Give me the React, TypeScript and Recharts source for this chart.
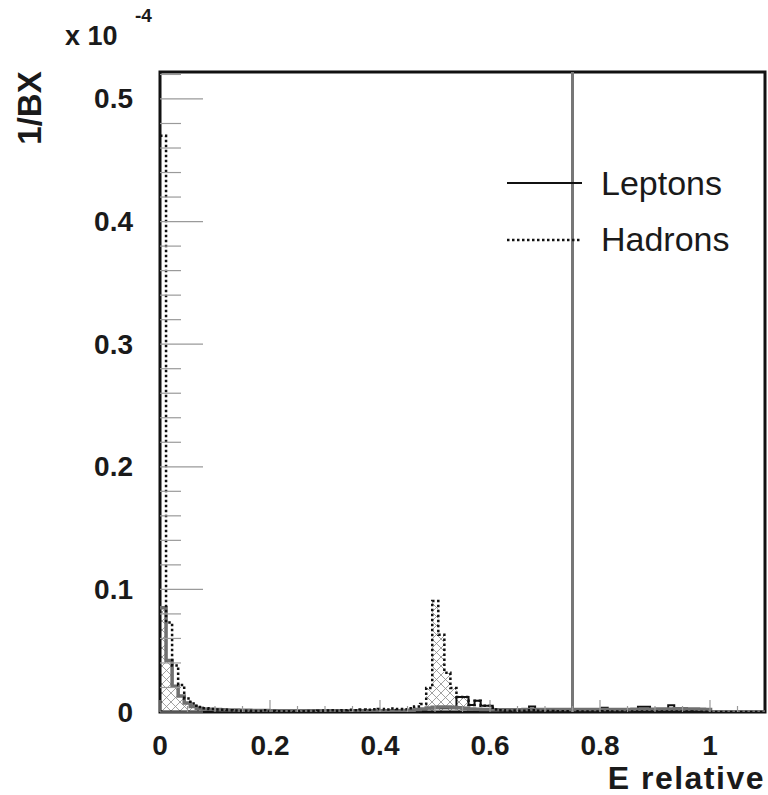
import React from 'react';
import { ComposedChart, Area, Line, XAxis, YAxis, ReferenceLine, ReferenceArea } from 'recharts';

// 100 bins of width 0.011 on [0, 1.1]; values in units of 1e-4 per BX
const BIN_WIDTH = 0.011;

const hadrons = [
  0.47, 0.073, 0.038, 0.022, 0.011, 0.007, 0.004, 0.003, 0.0025, 0.002,
  0.0018, 0.0015, 0.0012, 0.001, 0.001, 0.0008, 0.0008, 0.0015, 0.0008, 0.0007,
  0.0006, 0.0006, 0.0005, 0.0007, 0.0008, 0.0008, 0.001, 0.0012, 0.0015, 0.001,
  0.0015, 0.0018, 0.0015, 0.002, 0.0018, 0.0022, 0.0025, 0.002, 0.0028, 0.0025,
  0.0022, 0.003, 0.0045, 0.0065, 0.0196, 0.0906, 0.063, 0.032, 0.0196, 0.0122,
  0.0122, 0.0057, 0.0092, 0.005, 0.005, 0.002, 0.0015, 0.001, 0.0012, 0.001,
  0.001, 0.0015, 0.001, 0.0008, 0.0008, 0.0007, 0.0007, 0.0006, 0.0006, 0.0005,
  0.0005, 0.0005, 0.0005, 0.0006, 0.0005, 0.0005, 0.0005, 0.0004, 0.0004, 0.0005,
  0.0005, 0.0004, 0.0004, 0.0004, 0.0005, 0.0004, 0.0004, 0.0004, 0.0003, 0.0003,
  0.0003, 0, 0, 0, 0, 0, 0, 0, 0, 0,
];

const leptons = [
  0.085, 0.042, 0.021, 0.013, 0.0073, 0.0045, 0.003, 0.0025, 0.0022, 0.002,
  0.001, 0.001, 0.001, 0.001, 0.001, 0.001, 0.001, 0.001, 0.001, 0.001,
  0.001, 0.001, 0.001, 0.001, 0.001, 0.001, 0.001, 0.001, 0.001, 0.001,
  0.001, 0.001, 0.001, 0.001, 0.001, 0.001, 0.001, 0.001, 0.001, 0.001,
  0.001, 0.001, 0.001, 0.001, 0.003, 0.003, 0.003, 0.003, 0.003, 0.0122,
  0.0122, 0.0057, 0.0092, 0.005, 0.005, 0.002, 0.0018, 0.0015, 0.0015, 0.0015,
  0.0015, 0.0045, 0.0015, 0.0015, 0.0015, 0.0015, 0.0015, 0.0015, 0.0015, 0.0015,
  0.0015, 0.0015, 0.0015, 0.0035, 0.0015, 0.0015, 0.0015, 0.0015, 0.0015, 0.0042,
  0.0042, 0.002, 0.002, 0.002, 0.0055, 0.002, 0.002, 0.002, 0.002, 0.002,
  0.002, 0, 0, 0, 0, 0, 0, 0, 0, 0,
];

const grayHist = [
  0.085, 0.042, 0.021, 0.013, 0.0073, 0.0045, 0.003, 0.0025, 0.0022, 0.002,
  0.0019, 0.0017, 0.0016, 0.0015, 0.0014, 0.0013, 0.0012, 0.0012, 0.0011, 0.0011,
  0.001, 0.001, 0.001, 0.001, 0.001, 0.001, 0.001, 0.001, 0.001, 0.001,
  0.001, 0.001, 0.001, 0.001, 0.001, 0.001, 0.001, 0.001, 0.001, 0.0011,
  0.0012, 0.0015, 0.002, 0.0025, 0.0032, 0.0038, 0.004, 0.004, 0.0038, 0.0035,
  0.003, 0.0025, 0.0022, 0.002, 0.002, 0.0018, 0.0018, 0.0018, 0.0018, 0.0018,
  0.002, 0.002, 0.002, 0.002, 0.002, 0.002, 0.002, 0.002, 0.002, 0.002,
  0.002, 0.002, 0.002, 0.002, 0.002, 0.002, 0.002, 0.002, 0.0022, 0.0022,
  0.0022, 0.0022, 0.0024, 0.0025, 0.0025, 0.0026, 0.0026, 0.0025, 0.0024, 0.0022,
  0.002, 0, 0, 0, 0, 0, 0, 0, 0, 0,
];

const hatched = [
  0.085, 0.042, 0.021, 0.013, 0.0073, 0.0045, 0.003, 0.0025, 0.0022, 0,
  0, 0, 0, 0, 0, 0, 0, 0, 0, 0,
  0, 0, 0, 0, 0, 0, 0, 0, 0, 0,
  0, 0, 0, 0, 0, 0, 0, 0, 0, 0,
  0, 0, 0, 0, 0.0196, 0.0906, 0.063, 0.032, 0.0196, 0.0122,
  0.0122, 0, 0, 0, 0, 0, 0, 0, 0, 0,
  0, 0, 0, 0, 0, 0, 0, 0, 0, 0,
  0, 0, 0, 0, 0, 0, 0, 0, 0, 0,
  0, 0, 0, 0, 0, 0, 0, 0, 0, 0,
  0, 0, 0, 0, 0, 0, 0, 0, 0, 0,
];

const xTicks = [0, 0.05, 0.1, 0.15, 0.2, 0.25, 0.3, 0.35, 0.4, 0.45, 0.5, 0.55, 0.6, 0.65, 0.7, 0.75, 0.8, 0.85, 0.9, 0.95, 1.0, 1.05];
const xLabels = [0, 0.2, 0.4, 0.6, 0.8, 1];
const yTicks = [0, 0.02, 0.04, 0.06, 0.08, 0.1, 0.12, 0.14, 0.16, 0.18, 0.2, 0.22, 0.24, 0.26, 0.28, 0.3, 0.32, 0.34, 0.36, 0.38, 0.4, 0.42, 0.44, 0.46, 0.48, 0.5, 0.52];
const yLabels = [0, 0.1, 0.2, 0.3, 0.4, 0.5];
const cutValue = 0.75;
const X_MAX = 1.1;
const Y_MAX = 0.522;

const chartData = hadrons.concat([0]).map((_, k) => {
  const i = Math.min(k, hadrons.length - 1);
  return {
    x: Number((k * BIN_WIDTH).toFixed(4)),
    hadrons: hadrons[i],
    leptons: leptons[i],
    gray: grayHist[i],
    hatch: hatched[i],
  };
});

const FONT = '"Liberation Sans", Arial, Helvetica, sans-serif';

const isIn = (arr: number[], v: number) => arr.some((a) => Math.abs(a - v) < 1e-9);

const YTick = (props: any) => {
  const { x, y, payload } = props;
  const v = payload.value;
  const major = isIn(yLabels, v);
  return (
    <g>
      <line x1={x} x2={x + (major ? 43 : 21)} y1={y} y2={y} stroke="#9a9a9a" strokeWidth={1.2} />
      {major && (
        <text x={x - 27} y={y} textAnchor="end" dominantBaseline="central" fontFamily={FONT} fontWeight="bold" fontSize={28} fill="#1a1a1a">
          {String(v)}
        </text>
      )}
    </g>
  );
};

const XTick = (props: any) => {
  const { x, y, payload } = props;
  const v = payload.value;
  const major = isIn(xLabels, v);
  return (
    <g>
      <line x1={x} x2={x} y1={y} y2={y - (major ? 12 : 6)} stroke="#9a9a9a" strokeWidth={1.2} />
      {major && (
        <text x={x} y={y + 43} textAnchor="middle" fontFamily={FONT} fontWeight="bold" fontSize={28} fill="#1a1a1a">
          {String(v)}
        </text>
      )}
    </g>
  );
};

export default function App() {
  return (
    <div style={{ position: 'absolute', left: 0, top: 0, width: 768, height: 795, background: '#fff', fontFamily: FONT, overflow: 'hidden' }}>
      <svg width={0} height={0} style={{ position: 'absolute' }}>
        <defs>
          <pattern id="hatch" patternUnits="userSpaceOnUse" width={9} height={9}>
            <path d="M0,0 L9,9 M9,0 L0,9" stroke="#8a8a8a" strokeWidth={0.8} />
          </pattern>
        </defs>
      </svg>
      <ComposedChart width={768} height={795} data={chartData} margin={{ top: 72, right: 3, bottom: 0, left: 0 }}>
        <XAxis
          dataKey="x"
          type="number"
          domain={[0, X_MAX]}
          ticks={xTicks}
          interval={0}
          tick={<XTick />}
          tickLine={false}
          axisLine={false}
          tickSize={0}
          tickMargin={0}
          height={83}
          allowDataOverflow
        />
        <YAxis
          type="number"
          domain={[0, Y_MAX]}
          ticks={yTicks}
          interval={0}
          tick={<YTick />}
          tickLine={false}
          axisLine={false}
          tickSize={0}
          tickMargin={0}
          width={160}
          allowDataOverflow
        />
        <Area type="stepAfter" dataKey="hatch" stroke="none" fill="url(#hatch)" fillOpacity={1} isAnimationActive={false} />
        <Line type="stepAfter" dataKey="leptons" stroke="#111" strokeWidth={2} dot={false} activeDot={false} isAnimationActive={false} />
        <Line type="stepAfter" dataKey="gray" stroke="#707070" strokeWidth={3.5} dot={false} activeDot={false} isAnimationActive={false} />
        <Line type="stepAfter" dataKey="hadrons" stroke="#111" strokeWidth={2.5} strokeDasharray="2.5 2.5" dot={false} activeDot={false} isAnimationActive={false} />
        <ReferenceLine x={cutValue} stroke="#777" strokeWidth={3} ifOverflow="visible" />
        <ReferenceArea x1={0} x2={X_MAX} y1={0} y2={Y_MAX} fill="none" stroke="#111" strokeWidth={3} ifOverflow="visible" />
      </ComposedChart>

      {/* exponent label */}
      <div style={{ position: 'absolute', left: 65, top: 21, fontSize: 27, fontWeight: 'bold', color: '#1a1a1a', whiteSpace: 'nowrap', lineHeight: '30px' }}>x 10</div>
      <div style={{ position: 'absolute', left: 135, top: 5, fontSize: 19, fontWeight: 'bold', color: '#1a1a1a', whiteSpace: 'nowrap', lineHeight: '22px' }}>-4</div>

      {/* y-axis title */}
      <div style={{ position: 'absolute', left: 30, top: 108, transform: 'translate(-50%, -50%) rotate(-90deg)', fontSize: 33, fontWeight: 'bold', color: '#1a1a1a', whiteSpace: 'nowrap', lineHeight: '36px' }}>1/BX</div>

      {/* x-axis title */}
      <div style={{ position: 'absolute', right: 3, top: 764, fontSize: 32, letterSpacing: 1.5, fontWeight: 'bold', color: '#1a1a1a', whiteSpace: 'nowrap', lineHeight: '28px' }}>E relative</div>

      {/* legend */}
      <svg width={80} height={80} style={{ position: 'absolute', left: 505, top: 170 }}>
        <line x1={2} x2={77} y1={13} y2={13} stroke="#111" strokeWidth={2} />
        <line x1={2} x2={77} y1={70} y2={70} stroke="#111" strokeWidth={2.5} strokeDasharray="2.5 2.5" />
      </svg>
      <div style={{ position: 'absolute', left: 601, top: 164, fontSize: 34, color: '#1a1a1a', whiteSpace: 'nowrap', lineHeight: '38px' }}>Leptons</div>
      <div style={{ position: 'absolute', left: 601, top: 220, fontSize: 34, color: '#1a1a1a', whiteSpace: 'nowrap', lineHeight: '38px' }}>Hadrons</div>
    </div>
  );
}
